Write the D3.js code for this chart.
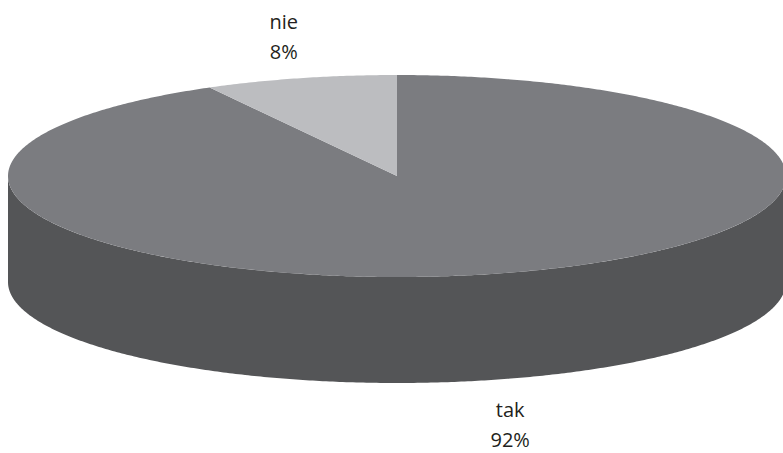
<!DOCTYPE html>
<html>
<head>
<meta charset="utf-8">
<script src="https://cdn.jsdelivr.net/npm/d3@7/dist/d3.min.js"></script>
<style>
  html, body { margin: 0; padding: 0; background: #ffffff; }
  svg { display: block; }
  text { font-family: "Open Sans", "Noto Sans", sans-serif; font-size: 20px; fill: #231f20; }
</style>
</head>
<body>
<svg id="chart" width="783" height="453"></svg>
<script>
// Answers and their shares (percent)
const categories = ["tak", "nie"];
const values = [92, 8];
const valueLabels = ["92%", "8%"];

// Fill colours for the top face and the outer wall of each slice
const topColors = ["#7b7c80", "#bcbdc0"];
const sideColors = ["#545557", "#8d8e91"];

const W = 783, H = 453;
const cx = 397, cy = 176;   // centre of the top ellipse
const rx = 389, ry = 101;   // ellipse radii
const depth = 106;          // thickness of the disc

const svg = d3.select("#chart");

const pie = d3.pie().sort(null).value(d => d);
const arcs = pie(values);

// angle (d3 convention: 0 at 12 o'clock, clockwise) -> point on the ellipse
const ex = a => cx + rx * Math.sin(a);
const ey = (a, dy = 0) => cy - ry * Math.cos(a) + dy;

function samples(a0, a1, n) {
  const pts = [];
  const steps = Math.max(2, Math.ceil(Math.abs(a1 - a0) / (Math.PI / 180) * n));
  for (let i = 0; i <= steps; i++) pts.push(a0 + (a1 - a0) * i / steps);
  return pts;
}

function topPath(d) {
  const p = d3.path();
  p.moveTo(cx, cy);
  samples(d.startAngle, d.endAngle, 2).forEach(a => p.lineTo(ex(a), ey(a)));
  p.closePath();
  return p.toString();
}

// Outer wall, only the part facing the viewer (angles between 90° and 270°)
function sidePath(d) {
  const a0 = Math.max(d.startAngle, Math.PI / 2);
  const a1 = Math.min(d.endAngle, 3 * Math.PI / 2);
  if (a1 <= a0) return null;
  const p = d3.path();
  const angles = samples(a0, a1, 2);
  angles.forEach((a, i) => i ? p.lineTo(ex(a), ey(a)) : p.moveTo(ex(a), ey(a)));
  angles.slice().reverse().forEach(a => p.lineTo(ex(a), ey(a, depth)));
  p.closePath();
  return p.toString();
}

const g = svg.append("g");

g.selectAll("path.side")
  .data(arcs.filter(d => sidePath(d)))
  .join("path")
  .attr("class", "side")
  .attr("d", sidePath)
  .attr("fill", d => sideColors[d.index]);

g.selectAll("path.top")
  .data(arcs)
  .join("path")
  .attr("class", "top")
  .attr("d", topPath)
  .attr("fill", d => topColors[d.index]);

// Two-line labels placed outside the disc, along each slice's mid angle
const labelK = 1.17;
const lineGap = 30;
const labels = svg.selectAll("g.label")
  .data(arcs)
  .join("g")
  .attr("class", "label");

labels.each(function(d) {
  const mid = (d.startAngle + d.endAngle) / 2;
  const x = cx + rx * labelK * Math.sin(mid);
  const front = Math.cos(mid) < 0;
  const edge = ey(mid, front ? depth : 0);
  const y1 = front ? edge + 37 : edge - 19 - lineGap;
  const sel = d3.select(this);
  sel.append("text").attr("x", x).attr("y", y1)
    .attr("text-anchor", "middle").text(categories[d.index]);
  sel.append("text").attr("x", x).attr("y", y1 + lineGap)
    .attr("text-anchor", "middle").text(valueLabels[d.index]);
});
</script>
</body>
</html>
